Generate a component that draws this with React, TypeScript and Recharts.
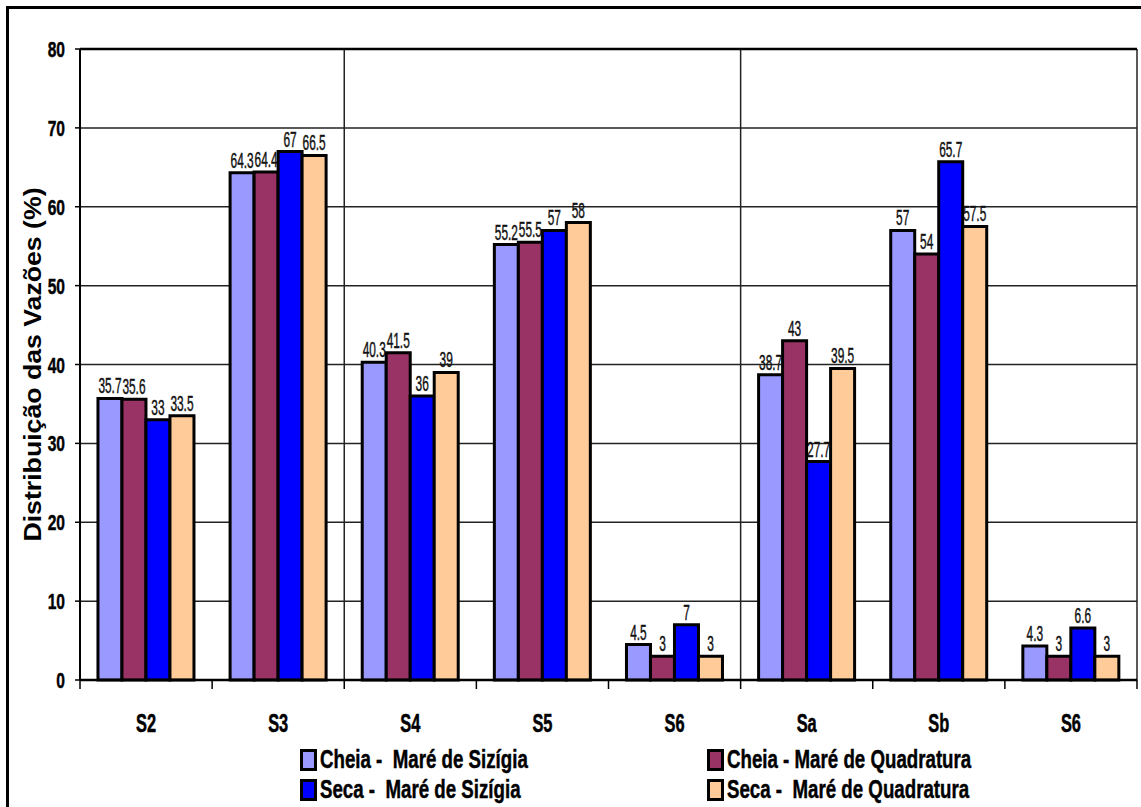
import React from 'react'
import {
  BarChart,
  Bar,
  XAxis,
  YAxis,
  CartesianGrid,
  Legend,
  LabelList,
  ReferenceLine,
} from 'recharts'

// stations (S6 appears twice in the source, once per group)
const categories = ['S2', 'S3', 'S4', 'S5', 'S6', 'Sa', 'Sb', 'S6']
const cheiaSizigia = [35.7, 64.3, 40.3, 55.2, 4.5, 38.7, 57, 4.3]
const cheiaQuadratura = [35.6, 64.4, 41.5, 55.5, 3, 43, 54, 3]
const secaSizigia = [33, 67, 36, 57, 7, 27.7, 65.7, 6.6]
const secaQuadratura = [33.5, 66.5, 39, 58, 3, 39.5, 57.5, 3]
const yTicks = [0, 10, 20, 30, 40, 50, 60, 70, 80]
// separators drawn after this many categories
const groupBreaks = [2, 5, 8]

const series = [
  { key: 'cs', name: 'Cheia -  Maré de Sizígia', color: '#9999FF', values: cheiaSizigia },
  { key: 'cq', name: 'Cheia - Maré de Quadratura', color: '#993366', values: cheiaQuadratura },
  { key: 'ss', name: 'Seca -  Maré de Sizígia', color: '#0000FF', values: secaSizigia },
  { key: 'sq', name: 'Seca -  Maré de Quadratura', color: '#FFCC99', values: secaQuadratura },
]

const data = categories.map((c, i) => {
  const row: Record<string, any> = { id: `${c}-${i}`, label: c }
  series.forEach(s => {
    row[s.key] = s.values[i]
  })
  return row
})

const CHART_W = 1141
const CHART_H = 807
const MARGIN = { top: 49, right: 4, left: 30, bottom: 67 }
const Y_AXIS_W = 50
const X_AXIS_H = 60
const PLOT_W = CHART_W - MARGIN.left - MARGIN.right - Y_AXIS_W
const PLOT_BOTTOM = CHART_H - MARGIN.bottom - X_AXIS_H
const BAND = PLOT_W / categories.length

// no Arial Narrow here, so squeeze Liberation Sans horizontally
const ARIAL = "'Liberation Sans', Arial, sans-serif"

function YTick(props: any) {
  const { x, y, payload } = props
  return (
    <text
      transform={`translate(${x},${y + 8}) scale(0.8,1.12)`}
      textAnchor="end"
      fontFamily={ARIAL}
      fontWeight="bold"
      fontSize={19.5}
      fill="#000"
      stroke="#000"
      strokeWidth={0.4}
    >
      {payload.value}
    </text>
  )
}

function XTick(props: any) {
  const { x, index } = props
  const left = x - BAND / 2
  const right = x + BAND / 2
  return (
    <g>
      <line x1={left} x2={left} y1={PLOT_BOTTOM} y2={PLOT_BOTTOM + 9} stroke="#000" strokeWidth={1.5} />
      {index === categories.length - 1 && (
        <line x1={right} x2={right} y1={PLOT_BOTTOM} y2={PLOT_BOTTOM + 9} stroke="#000" strokeWidth={1.5} />
      )}
      <text
        transform={`translate(${x},${PLOT_BOTTOM + 52}) scale(0.82,1.26)`}
        textAnchor="middle"
        fontFamily={ARIAL}
        fontWeight="bold"
        fontSize={20}
        fill="#000"
        stroke="#000"
        strokeWidth={0.4}
      >
        {categories[index]}
      </text>
    </g>
  )
}

function ValueLabel(props: any) {
  const { x, y, width, value } = props
  return (
    <text
      transform={`translate(${x + width / 2},${y - 5}) scale(0.72,1.3)`}
      textAnchor="middle"
      fontFamily={ARIAL}
      fontSize={16.5}
      fill="#111"
      stroke="#111"
      strokeWidth={0.35}
    >
      {value}
    </text>
  )
}

function AxisTitle(props: any) {
  const vb = props.viewBox
  const cy = vb.y + vb.height / 2
  return (
    <text
      transform={`translate(${vb.x + 3},${cy}) rotate(-90) scale(1.16,1)`}
      textAnchor="middle"
      dominantBaseline="central"
      fontFamily={ARIAL}
      fontWeight="bold"
      fontSize={23}
      fill="#000"
    >
      Distribuição das Vazões (%)
    </text>
  )
}

function LegendBox() {
  return (
    <div style={{ display: 'grid', gridTemplateColumns: '407px 330px' }}>
      {series.map(s => (
        <div key={s.key} style={{ display: 'flex', alignItems: 'center', height: 30 }}>
          <div
            style={{
              flexShrink: 0,
              width: 11,
              height: 16,
              border: '3px solid #000',
              background: s.color,
            }}
          />
          <span
            style={{
              marginLeft: 3,
              fontFamily: ARIAL,
              fontWeight: 'bold',
              fontSize: 22,
              whiteSpace: 'pre',
              lineHeight: '30px',
              display: 'inline-block',
              transform: 'scale(0.85,1.14)',
              transformOrigin: 'left center',
              color: '#000',
              WebkitTextStroke: '0.4px #000',
            }}
          >
            {s.name}
          </span>
        </div>
      ))}
    </div>
  )
}

export default function App() {
  return (
    <div
      style={{
        position: 'fixed',
        left: 0,
        top: 0,
        width: CHART_W,
        height: CHART_H,
        overflow: 'hidden',
        background: '#fff',
      }}
    >
      <div
        style={{
          position: 'absolute',
          left: 6,
          top: 6,
          width: 1200,
          height: 900,
          borderTop: '3.5px solid #000',
          borderLeft: '3px solid #000',
        }}
      />
      <div style={{ position: 'absolute', left: 0, top: 0 }}>
        <BarChart
          width={CHART_W}
          height={CHART_H}
          data={data}
          margin={MARGIN}
          barCategoryGap="13.6%"
          barGap={0}
        >
          <CartesianGrid
            stroke="#222"
            strokeWidth={1.5}
            verticalCoordinatesGenerator={({ offset }: any) =>
              groupBreaks.map(k => offset.left + (offset.width * k) / categories.length)
            }
          />
          <XAxis
            dataKey="id"
            height={X_AXIS_H}
            interval={0}
            tickLine={false}
            axisLine={{ stroke: '#000', strokeWidth: 2.5 }}
            tick={<XTick />}
          />
          <YAxis
            width={Y_AXIS_W}
            domain={[0, 80]}
            ticks={yTicks}
            interval={0}
            tickSize={5}
            tickMargin={10}
            tickLine={{ stroke: '#000', strokeWidth: 1.5 }}
            axisLine={{ stroke: '#000', strokeWidth: 2 }}
            tick={<YTick />}
            label={{ content: AxisTitle }}
          />
          <ReferenceLine y={80} stroke="#000" strokeWidth={2.5} />
          {series.map(s => (
            <Bar
              key={s.key}
              dataKey={s.key}
              name={s.name}
              fill={s.color}
              stroke="#000"
              strokeWidth={3}
              isAnimationActive={false}
            >
              <LabelList dataKey={s.key} content={<ValueLabel />} />
            </Bar>
          ))}
          <Legend
            layout="vertical"
            align="center"
            verticalAlign="middle"
            wrapperStyle={{ left: 300, top: 745, width: 740 }}
            content={() => <LegendBox />}
          />
        </BarChart>
      </div>
    </div>
  )
}
